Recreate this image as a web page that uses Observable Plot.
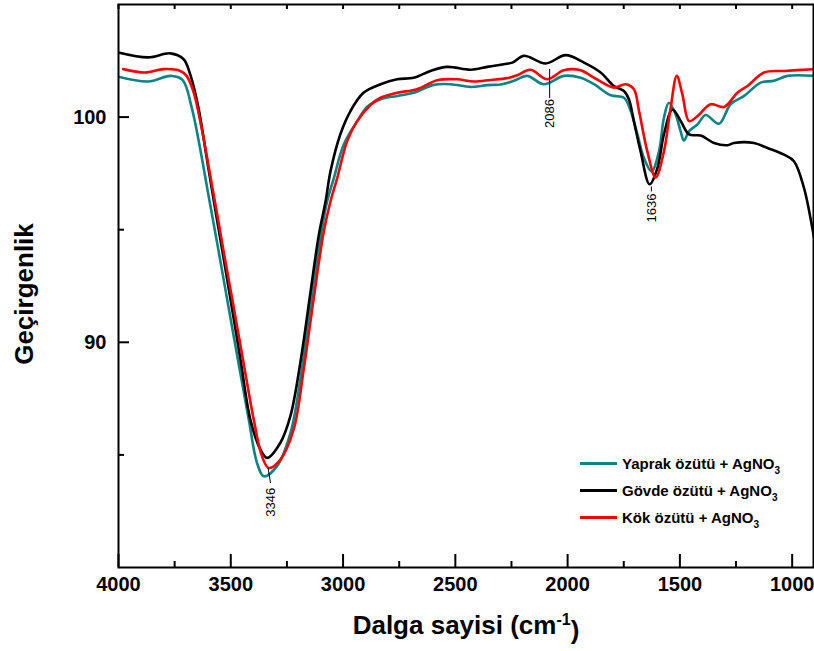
<!DOCTYPE html>
<html><head><meta charset="utf-8">
<script src="https://cdn.jsdelivr.net/npm/d3@7"></script>
<script src="https://cdn.jsdelivr.net/npm/@observablehq/plot@0.6"></script>
<style>
body{margin:0;background:#fff;font-family:"Liberation Sans",Arial,sans-serif;}
#wrap{position:relative;width:814px;height:651px;overflow:hidden;}
#legend{position:absolute;left:580px;top:450px;font-weight:bold;font-size:15px;color:#000;}
.row{display:flex;align-items:center;height:27px;white-space:nowrap;}
.sw{width:37px;height:3px;margin-right:5px;flex:none;}
.lbl sub{font-size:10px;vertical-align:-5px;line-height:0;}
</style></head><body>
<div id="wrap"><div id="chart"></div><div id="legend"></div></div>
<script>
// Series: Yaprak özütü + AgNO3 (teal)
const yaprakW = [4000,3867,3769,3715,3674,3637,3600,3558,3524,3465,3420,3383,3353,3294,3234,3190,3145,3101,3071,3041,2997,2937,2893,2833,2759,2685,2596,2521,2432,2358,2291,2239,2180,2106,2017,1942,1883,1808,1749,1719,1689,1660,1626,1593,1571,1549,1519,1497,1482,1459,1422,1385,1326,1274,1214,1140,1081,1021,902];
const yaprakT = [101.79,101.58,101.83,101.65,100.42,98.63,96.57,94.26,92.35,89.05,86.58,84.64,84.05,84.50,85.98,88.36,91.64,94.61,96.25,97.29,98.78,99.82,100.45,100.79,100.94,101.08,101.43,101.46,101.34,101.42,101.46,101.61,101.83,101.46,101.83,101.75,101.46,100.97,100.86,100.27,99.23,98.18,97.59,98.48,99.97,100.64,100.12,99.38,98.96,99.38,99.67,100.09,99.70,100.57,100.94,101.53,101.61,101.83,101.83];
// Series: Gövde özütü + AgNO3 (black)
const govdeW = [4000,3867,3770,3711,3681,3644,3607,3570,3543,3516,3457,3413,3368,3338,3279,3234,3190,3145,3108,3078,3056,3012,2967,2909,2833,2759,2685,2611,2536,2432,2358,2284,2246,2195,2098,2009,1927,1853,1794,1749,1727,1705,1675,1635,1600,1571,1533,1496,1459,1407,1348,1288,1259,1170,1110,1036,992,947,910,895];
const govdeT = [102.87,102.65,102.83,102.58,101.91,100.42,98.18,95.95,94.38,92.79,89.25,86.58,85.24,84.87,85.54,86.74,89.11,92.23,94.76,96.25,97.59,99.24,100.27,101.08,101.46,101.68,101.75,102.05,102.23,102.10,102.23,102.35,102.42,102.72,102.38,102.75,102.42,101.98,101.38,101.16,100.79,99.82,98.48,97.02,97.74,99.24,100.34,99.82,99.23,99.18,98.85,98.75,98.85,98.85,98.63,98.33,98.04,96.84,95.06,94.2];
// Series: Kök özütü + AgNO3 (red)
const kokW = [3979,3881,3800,3725,3697,3667,3630,3592,3555,3529,3494,3435,3398,3361,3331,3279,3220,3175,3131,3086,3056,3026,2982,2937,2878,2833,2759,2670,2581,2492,2418,2343,2269,2224,2165,2091,2017,1942,1883,1794,1742,1705,1682,1645,1608,1571,1541,1514,1489,1459,1422,1363,1303,1244,1199,1125,1036,902];
const kokT = [102.13,101.98,102.13,102.05,101.83,101.16,99.52,97.43,95.36,93.87,91.95,88.63,86.58,84.94,84.42,84.79,86.13,88.81,91.93,94.91,96.25,97.29,98.93,99.82,100.54,100.86,101.08,101.24,101.64,101.68,101.58,101.65,101.73,101.86,102.10,101.68,102.08,102.08,101.75,101.31,101.46,101.24,100.27,98.48,97.32,98.48,100.42,101.83,101.01,99.82,100.04,100.57,100.45,101.08,101.38,101.98,102.05,102.13];

const seriesNames = ["Yaprak özütü + AgNO", "Gövde özütü + AgNO", "Kök özütü + AgNO"];
const seriesColors = ["#0a8484", "#000000", "#ff0000"];

// Axis ticks
const xMajor = [4000,3500,3000,2500,2000,1500,1000];
const xMinor = [3750,3250,2750,2250,1750,1250];
const yMajor = [90,100];
const yMinor = [85,95];

// Peak annotations
const annoLabel = ["3346","2086","1636"];
const annoX = [3323,2080,1627];
const annoY = [82.90,100.16,95.96];
const leadX1 = [3334,2080,1627];
const leadY1 = [84.42,102.14,96.92];
const leadX2 = [3323,2080,1627];
const leadY2 = [83.75,100.85,96.70];

const toRows = (W,T) => W.map((w,i) => ({w, t: T[i]}));
const seriesData = [toRows(yaprakW,yaprakT), toRows(govdeW,govdeT), toRows(kokW,kokT)];
const font = "'Liberation Sans', Arial, sans-serif";
const lineMarks = seriesData.map((d,i) => Plot.line(d, {x:"w", y:"t", stroke: seriesColors[i], strokeWidth: 2.6, curve: "catmull-rom", clip: true}));
const W_PLOT = 814 - 118 - 1, H_PLOT = 651 - 4 - 84;
const id = d => d;

const chart = Plot.plot({
  width: 814, height: 651,
  marginLeft: 118, marginRight: 1, marginTop: 4, marginBottom: 84,
  style: {fontFamily: font, background: "white", color: "black"},
  x: {domain: [4000, 905]},
  y: {domain: [80, 105]},
  marks: [
    ...lineMarks,
    Plot.link(annoLabel, {x1: leadX1, y1: leadY1, x2: leadX2, y2: leadY2, stroke: "black", strokeWidth: 1}),
    Plot.text(annoLabel, {x: annoX, y: annoY, text: annoLabel, rotate: -90, fontSize: 13, fill: "black"}),
    Plot.frame({stroke: "black", strokeWidth: 2}),
    // inward tick marks
    Plot.ruleX(xMajor, {x: id, insetTop: H_PLOT - 13, stroke: "black", strokeWidth: 2}),
    Plot.ruleX(xMinor, {x: id, insetTop: H_PLOT - 6, stroke: "black", strokeWidth: 2}),
    Plot.ruleX(xMajor.concat(xMinor), {x: id, insetBottom: H_PLOT - 5, stroke: "black", strokeWidth: 2}),
    Plot.ruleY(yMajor, {y: id, insetRight: W_PLOT - 11, stroke: "black", strokeWidth: 2}),
    Plot.ruleY(yMinor, {y: id, insetRight: W_PLOT - 6, stroke: "black", strokeWidth: 2}),
    // tick labels
    Plot.axisX({ticks: xMajor, tickSize: 0, tickPadding: 9, tickFormat: d => String(d), fontSize: 20, fontWeight: "bold", label: null}),
    Plot.axisY({ticks: yMajor, tickSize: 0, tickPadding: 12, tickFormat: d => String(d), fontSize: 20, fontWeight: "bold", label: null}),
    // axis titles
    Plot.text(["Geçirgenlik"], {text: d => d, frameAnchor: "left", textAnchor: "middle", dx: -94, dy: 8, rotate: -90, fontSize: 26, fontWeight: "bold", fill: "black"}),
    Plot.text(["Dalga sayisi (cm-1)"], {text: d => d, frameAnchor: "bottom", textAnchor: "middle", dy: 66, fontSize: 26, fontWeight: "bold", fill: "black"})
  ]
});
document.getElementById("chart").appendChild(chart);

// superscript for x title
d3.select(chart).selectAll("text").filter(function(){ return this.textContent === "Dalga sayisi (cm-1)"; })
  .each(function(){
    const t = d3.select(this);
    t.text(null);
    t.append("tspan").text("Dalga sayisi (cm");
    t.append("tspan").attr("dy", "-0.55em").attr("font-size", "16").text("-1");
    t.append("tspan").attr("dy", "0.55em").text(")");
  });

// legend
const leg = d3.select("#legend");
seriesNames.forEach((n,i) => {
  const r = leg.append("div").attr("class","row");
  r.append("div").attr("class","sw").style("background", seriesColors[i]);
  const s = r.append("span").attr("class","lbl");
  s.append("span").text(n);
  s.append("sub").text("3");
});
</script>
</body></html>
